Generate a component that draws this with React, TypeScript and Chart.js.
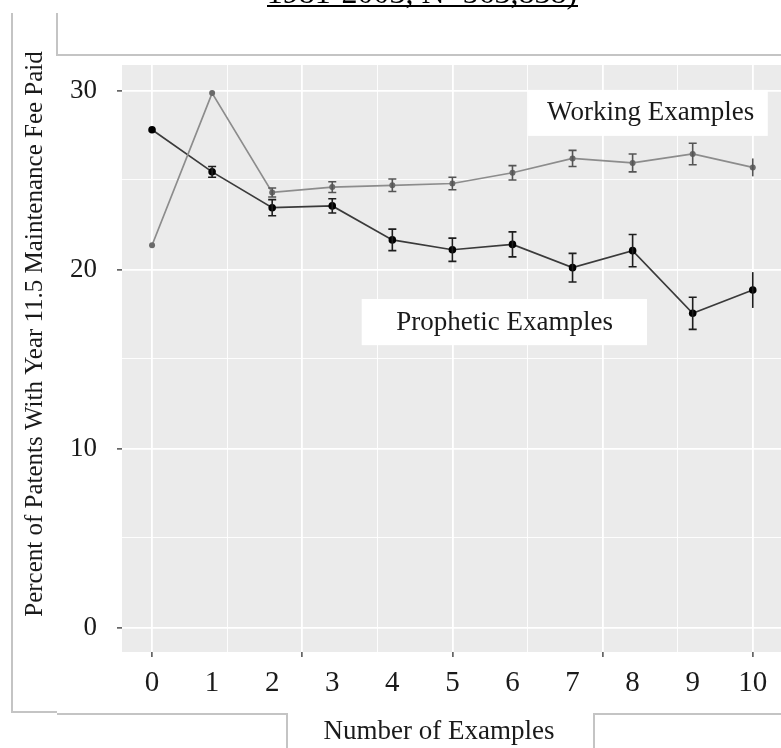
import React, { useEffect, useRef } from "react";
import { Chart, registerables } from "chart.js";

Chart.register(...registerables);

// ---------- data ----------
const categories = [0, 1, 2, 3, 4, 5, 6, 7, 8, 9, 10];
const propheticValues = [27.8, 25.45, 23.45, 23.55, 21.65, 21.1, 21.4, 20.1, 21.05, 17.55, 18.85];
const propheticErrors = [0, 0.3, 0.45, 0.4, 0.6, 0.65, 0.7, 0.8, 0.9, 0.9, 1.0];
const workingValues = [21.35, 29.85, 24.3, 24.6, 24.7, 24.8, 25.4, 26.2, 25.95, 26.45, 25.7];
const workingErrors = [0, 0, 0.25, 0.3, 0.35, 0.35, 0.4, 0.45, 0.5, 0.6, 0.5];
const xTickLabels = ["0", "1", "2", "3", "4", "5", "6", "7", "8", "9", "10"];
const yTickLabels = ["0", "10", "20", "30"];
const seriesNames = ["Working Examples", "Prophetic Examples"];
const titleText = "1981-2003, N=563,838)";
const xTitle = "Number of Examples";
const yTitle = "Percent of Patents With Year 11.5 Maintenance Fee Paid";

const SERIF = "'Liberation Serif', 'Times New Roman', serif";
const W = 781;
const H = 748;

const near = (a: number, b: number) => Math.abs(a - b) < 1e-6;
const isMult = (v: number, step: number) => near(v / step, Math.round(v / step));

const xTickValues = Array.from(
  new Set([...categories, ...[0, 1.25, 2.5, 3.75, 5, 6.25, 7.5, 8.75, 10]])
).sort((a, b) => a - b);
const yTickValues = [0, 5, 10, 15, 20, 25, 30];

const bgPlugin = {
  id: "panelBg",
  beforeDraw(chart: any) {
    const { ctx, chartArea } = chart;
    ctx.save();
    ctx.fillStyle = "#ffffff";
    ctx.fillRect(0, 0, chart.width, chart.height);
    ctx.fillStyle = "#EBEBEB";
    ctx.fillRect(chartArea.left, chartArea.top, chartArea.right - chartArea.left, chartArea.bottom - chartArea.top);
    ctx.restore();
  },
};

const annotationPlugin = {
  id: "labelsBoxes",
  beforeDatasetsDraw(chart: any) {
    const { ctx } = chart;
    const xs = chart.scales.x;
    const ys = chart.scales.y;
    const boxes = [
      { text: seriesNames[0], x0: 6.26, x1: 10.25, y0: 30.03, y1: 27.46, tx: 8.3, ty: 28.74 },
      { text: seriesNames[1], x0: 3.49, x1: 8.24, y0: 18.35, y1: 15.77, tx: 5.87, ty: 17.0 },
    ];
    ctx.save();
    boxes.forEach((b) => {
      const l = xs.getPixelForValue(b.x0);
      const r = xs.getPixelForValue(b.x1);
      const t = ys.getPixelForValue(b.y0);
      const bt = ys.getPixelForValue(b.y1);
      ctx.fillStyle = "#ffffff";
      ctx.fillRect(l, t, r - l, bt - t);
      ctx.fillStyle = "#1a1a1a";
      ctx.font = `27px ${SERIF}`;
      ctx.textAlign = "center";
      ctx.textBaseline = "middle";
      ctx.fillText(b.text, xs.getPixelForValue(b.tx), ys.getPixelForValue(b.ty));
    });
    ctx.restore();
  },
};

const errorBarPlugin = {
  id: "errorBars",
  afterDatasetsDraw(chart: any) {
    const { ctx } = chart;
    const xs = chart.scales.x;
    const ys = chart.scales.y;
    chart.data.datasets.forEach((ds: any) => {
      ctx.save();
      ctx.strokeStyle = ds.errColor;
      ctx.lineWidth = 1.6;
      ds.data.forEach((p: any, i: number) => {
        const e = ds.errors[i];
        if (!e) return;
        const px = xs.getPixelForValue(p.x);
        const yTop = ys.getPixelForValue(p.y + e);
        const yBot = ys.getPixelForValue(p.y - e);
        ctx.beginPath();
        ctx.moveTo(px, yTop);
        ctx.lineTo(px, yBot);
        if (i < categories.length - 1) {
          ctx.moveTo(px - 4, yTop);
          ctx.lineTo(px + 4, yTop);
          ctx.moveTo(px - 4, yBot);
          ctx.lineTo(px + 4, yBot);
        }
        ctx.stroke();
      });
      ctx.restore();
    });
  },
};

const decorPlugin = {
  id: "decor",
  afterDraw(chart: any) {
    const { ctx } = chart;
    ctx.save();
    // frame artefacts
    ctx.strokeStyle = "#c4c4c4";
    ctx.lineWidth = 2;
    ctx.beginPath();
    ctx.moveTo(12, 13);
    ctx.lineTo(12, 712);
    ctx.lineTo(57, 712);
    ctx.moveTo(57, 714);
    ctx.lineTo(287, 714);
    ctx.lineTo(287, H);
    ctx.moveTo(594, H);
    ctx.lineTo(594, 714);
    ctx.lineTo(W, 714);
    ctx.moveTo(57, 13);
    ctx.lineTo(57, 55);
    ctx.lineTo(W, 55);
    ctx.stroke();
    // cut-off title
    ctx.fillStyle = "#000";
    ctx.font = `32px ${SERIF}`;
    ctx.textAlign = "center";
    ctx.textBaseline = "alphabetic";
    ctx.fillText(titleText, 422, 3);
    ctx.fillRect(267, 5, 311, 2);
    // x-axis title
    ctx.fillStyle = "#1a1a1a";
    ctx.font = `27px ${SERIF}`;
    ctx.textAlign = "center";
    ctx.textBaseline = "middle";
    ctx.fillText(xTitle, 439, 732);
    // y-axis title
    ctx.font = `25px ${SERIF}`;
    ctx.translate(35, 334);
    ctx.rotate(-Math.PI / 2);
    ctx.fillText(yTitle, 0, 0);
    ctx.restore();
  },
};

export default function App() {
  const ref = useRef<HTMLCanvasElement | null>(null);

  useEffect(() => {
    document.body.style.margin = "0";
    if (!ref.current) return;
    const chart = new Chart(ref.current, {
      type: "line",
      data: {
        datasets: [
          {
            label: seriesNames[0],
            data: categories.map((c, i) => ({ x: c, y: workingValues[i] })),
            borderColor: "#8c8c8c",
            borderWidth: 1.7,
            pointRadius: 3,
            pointBackgroundColor: "#6a6a6a",
            pointBorderColor: "#6a6a6a",
            pointBorderWidth: 0,
            tension: 0,
            errors: workingErrors,
            errColor: "#555555",
          } as any,
          {
            label: seriesNames[1],
            data: categories.map((c, i) => ({ x: c, y: propheticValues[i] })),
            borderColor: "#3a3a3a",
            borderWidth: 1.7,
            pointRadius: 3.8,
            pointBackgroundColor: "#000000",
            pointBorderColor: "#000000",
            pointBorderWidth: 0,
            tension: 0,
            errors: propheticErrors,
            errColor: "#1e1e1e",
          } as any,
        ],
      },
      options: {
        responsive: false,
        animation: false,
        devicePixelRatio: 1,
        layout: { autoPadding: false, padding: { left: 0, right: 0, top: 65, bottom: 0 } },
        plugins: { legend: { display: false }, tooltip: { enabled: false } },
        scales: {
          x: {
            type: "linear",
            min: -0.5,
            max: 10.47,
            afterBuildTicks: (s: any) => {
              s.ticks = xTickValues.map((v) => ({ value: v }));
            },
            afterFit: (s: any) => {
              s.height = 96;
            },
            border: { display: false },
            grid: {
              color: (c: any) => (isMult(c.tick?.value ?? 0, 1.25) ? "#ffffff" : "rgba(0,0,0,0)"),
              lineWidth: (c: any) => (isMult(c.tick?.value ?? 0, 2.5) ? 1.8 : 0.9),
              tickColor: (c: any) => (isMult(c.tick?.value ?? 0, 2.5) ? "#333333" : "rgba(0,0,0,0)"),
              tickWidth: 1.3,
              tickLength: 5,
              drawTicks: true,
            },
            ticks: {
              autoSkip: false,
              maxRotation: 0,
              minRotation: 0,
              padding: 9,
              color: "#1a1a1a",
              font: { family: SERIF, size: 29 },
              callback: (v: any) => {
                const n = Number(v);
                return Number.isInteger(n) ? xTickLabels[n] ?? "" : "";
              },
            },
          },
          y: {
            type: "linear",
            min: -1.37,
            max: 31.42,
            afterBuildTicks: (s: any) => {
              s.ticks = yTickValues.map((v) => ({ value: v }));
            },
            afterFit: (s: any) => {
              s.width = 122;
            },
            border: { display: false },
            grid: {
              color: "#ffffff",
              lineWidth: (c: any) => (isMult(c.tick?.value ?? 0, 10) ? 1.8 : 0.9),
              tickColor: (c: any) => (isMult(c.tick?.value ?? 0, 10) ? "#333333" : "rgba(0,0,0,0)"),
              tickWidth: 1.3,
              tickLength: 5,
              drawTicks: true,
            },
            ticks: {
              autoSkip: false,
              padding: 20,
              color: "#1a1a1a",
              font: { family: SERIF, size: 27 },
              callback: (v: any) => {
                const n = Number(v);
                return isMult(n, 10) ? yTickLabels[Math.round(n / 10)] ?? "" : "";
              },
            },
          },
        },
      },
      plugins: [bgPlugin, annotationPlugin, errorBarPlugin, decorPlugin],
    } as any);
    return () => chart.destroy();
  }, []);

  return (
    <div style={{ width: W, height: H, background: "#fff" }}>
      <canvas ref={ref} width={W} height={H} style={{ display: "block" }} />
    </div>
  );
}
